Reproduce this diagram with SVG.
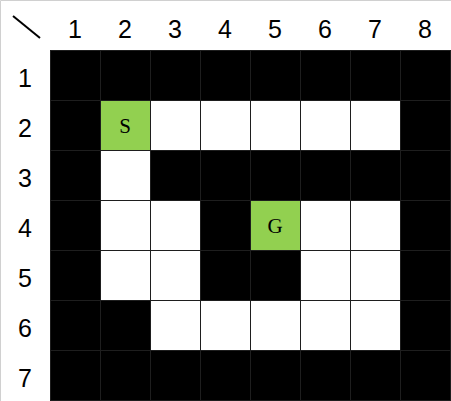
<svg xmlns="http://www.w3.org/2000/svg" width="451" height="401" viewBox="0 0 451 401">
<style>
.b{fill:#000}
.w{fill:#fff}
.g{fill:#92d050}
.hd{font-family:"Liberation Sans",Arial,sans-serif;font-size:25px;fill:#000;text-anchor:middle}
.lt{font-family:"Liberation Serif","Times New Roman",serif;font-size:21px;fill:#000;text-anchor:middle}
.grid{stroke:#1e1e1e;stroke-width:1;fill:none}
</style>
<rect x="0" y="0" width="451" height="401" fill="#fff"/>
<path d="M0.5,401 V0.5 H451" stroke="#d0d0d0" stroke-width="1" fill="none"/>
<line x1="13" y1="16" x2="40" y2="38" stroke="#000" stroke-width="2"/>
<g id="headers">
<text class="hd" x="75" y="38">1</text>
<text class="hd" x="125" y="38">2</text>
<text class="hd" x="175" y="38">3</text>
<text class="hd" x="225" y="38">4</text>
<text class="hd" x="275" y="38">5</text>
<text class="hd" x="325" y="38">6</text>
<text class="hd" x="375" y="38">7</text>
<text class="hd" x="425" y="38">8</text>
<text class="hd" x="25" y="87">1</text>
<text class="hd" x="25" y="137">2</text>
<text class="hd" x="25" y="187">3</text>
<text class="hd" x="25" y="237">4</text>
<text class="hd" x="25" y="287">5</text>
<text class="hd" x="25" y="337">6</text>
<text class="hd" x="25" y="387">7</text>
</g>
<g id="cells">
<rect class="b" x="50" y="50" width="400" height="350"/>
<rect class="w" x="150" y="100" width="250" height="50"/>
<rect class="w" x="100" y="150" width="50" height="150"/>
<rect class="w" x="150" y="200" width="50" height="100"/>
<rect class="w" x="300" y="200" width="100" height="100"/>
<rect class="w" x="150" y="300" width="250" height="50"/>
</g>
<g id="start">
<rect class="g" x="100" y="100" width="50" height="50"/>
<text class="lt" x="125" y="133">S</text>
</g>
<g id="goal">
<rect class="g" x="250" y="200" width="50" height="50"/>
<text class="lt" x="275" y="233">G</text>
</g>
<g id="gridlines" class="grid">
<path d="M50.5,50 V400 M100.5,50 V400 M150.5,50 V400 M200.5,50 V400 M250.5,50 V400 M300.5,50 V400 M350.5,50 V400 M400.5,50 V400 M450.5,50 V400"/>
<path d="M50,50.5 H451 M50,100.5 H451 M50,150.5 H451 M50,200.5 H451 M50,250.5 H451 M50,300.5 H451 M50,350.5 H451 M50,400.5 H451"/>
</g>
</svg>
